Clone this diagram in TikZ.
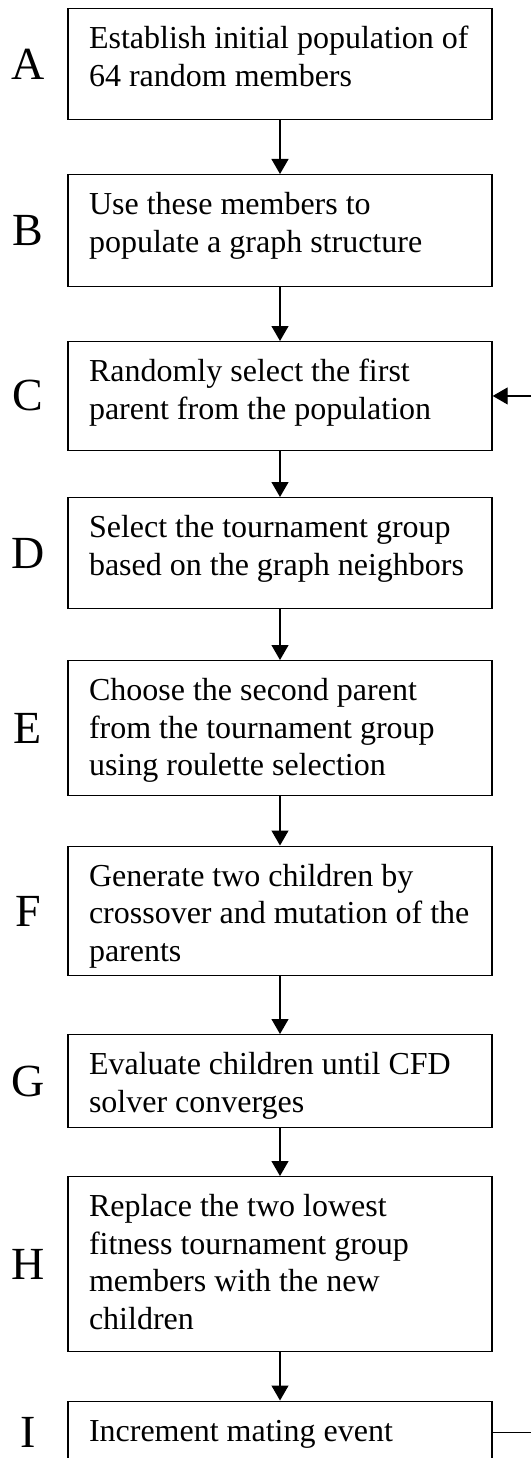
\documentclass[tikz,border=0pt]{standalone}
\usepackage{fontspec}
\setmainfont{Liberation Serif}
\usetikzlibrary{arrows.meta}

\tikzset{
  stepbox/.style={draw,line width=1.4pt,minimum width=424pt,inner xsep=21pt,inner ysep=0pt,anchor=north},
  letter/.style={inner sep=0pt,font=\fontsize{46}{50}\selectfont},
  flow/.style={-{Triangle[length=15pt,width=17pt]},line width=1.2pt}
}
\newcommand{\steptext}[2]{\parbox[c][#1][t]{382pt}{\raggedright\fontsize{32}{37.5}\selectfont\rule{0pt}{40pt}#2}}

\begin{document}
\begin{tikzpicture}[x=1pt,y=-1pt]
    \useasboundingbox (0,0) rectangle (531,1458);
    \clip (0,0) rectangle (531,1458);
    \coordinate (lx) at (28,0);
    \coordinate (edge) at (531,0);

    \node[stepbox] (a) at (280,8) {\steptext{111pt}{Establish initial population of\\64 random members}};
    \node[stepbox] (b) at (280,174) {\steptext{112pt}{Use these members to\\populate a graph structure}};
    \node[stepbox] (c) at (280,341) {\steptext{108.5pt}{Randomly select the first\\parent from the population}};
    \node[stepbox] (d) at (280,497) {\steptext{111pt}{Select the tournament group\\based on the graph neighbors}};
    \node[stepbox] (e) at (280,660) {\steptext{135pt}{Choose the second parent\\from the tournament group\\using roulette selection}};
    \node[stepbox] (f) at (280,845.5) {\steptext{129.5pt}{Generate two children by\\crossover and mutation of the\\parents}};
    \node[stepbox] (g) at (280,1034) {\steptext{93pt}{Evaluate children until CFD\\solver converges}};
    \node[stepbox] (h) at (280,1176) {\steptext{175pt}{Replace the two lowest\\fitness tournament group\\members with the new\\children}};
    \node[stepbox] (i) at (280,1400.5) {\steptext{63pt}{Increment mating event}};

    \foreach \n/\l in {a/A,b/B,c/C,d/D,e/E,f/F,g/G,h/H,i/I}
      \node[letter] (l\n) at (lx |- \n) {\l};

    \foreach \p/\q in {a/b,b/c,c/d,d/e,e/f,f/g,g/h,h/i}
      \draw[flow] (\p) -- (\q);

    % loop back to C
    \draw[line width=1.2pt] (i.east) -- (i.east -| edge);
    \draw[flow] (c.east -| edge) -- (c.east);
\end{tikzpicture}
\end{document}
